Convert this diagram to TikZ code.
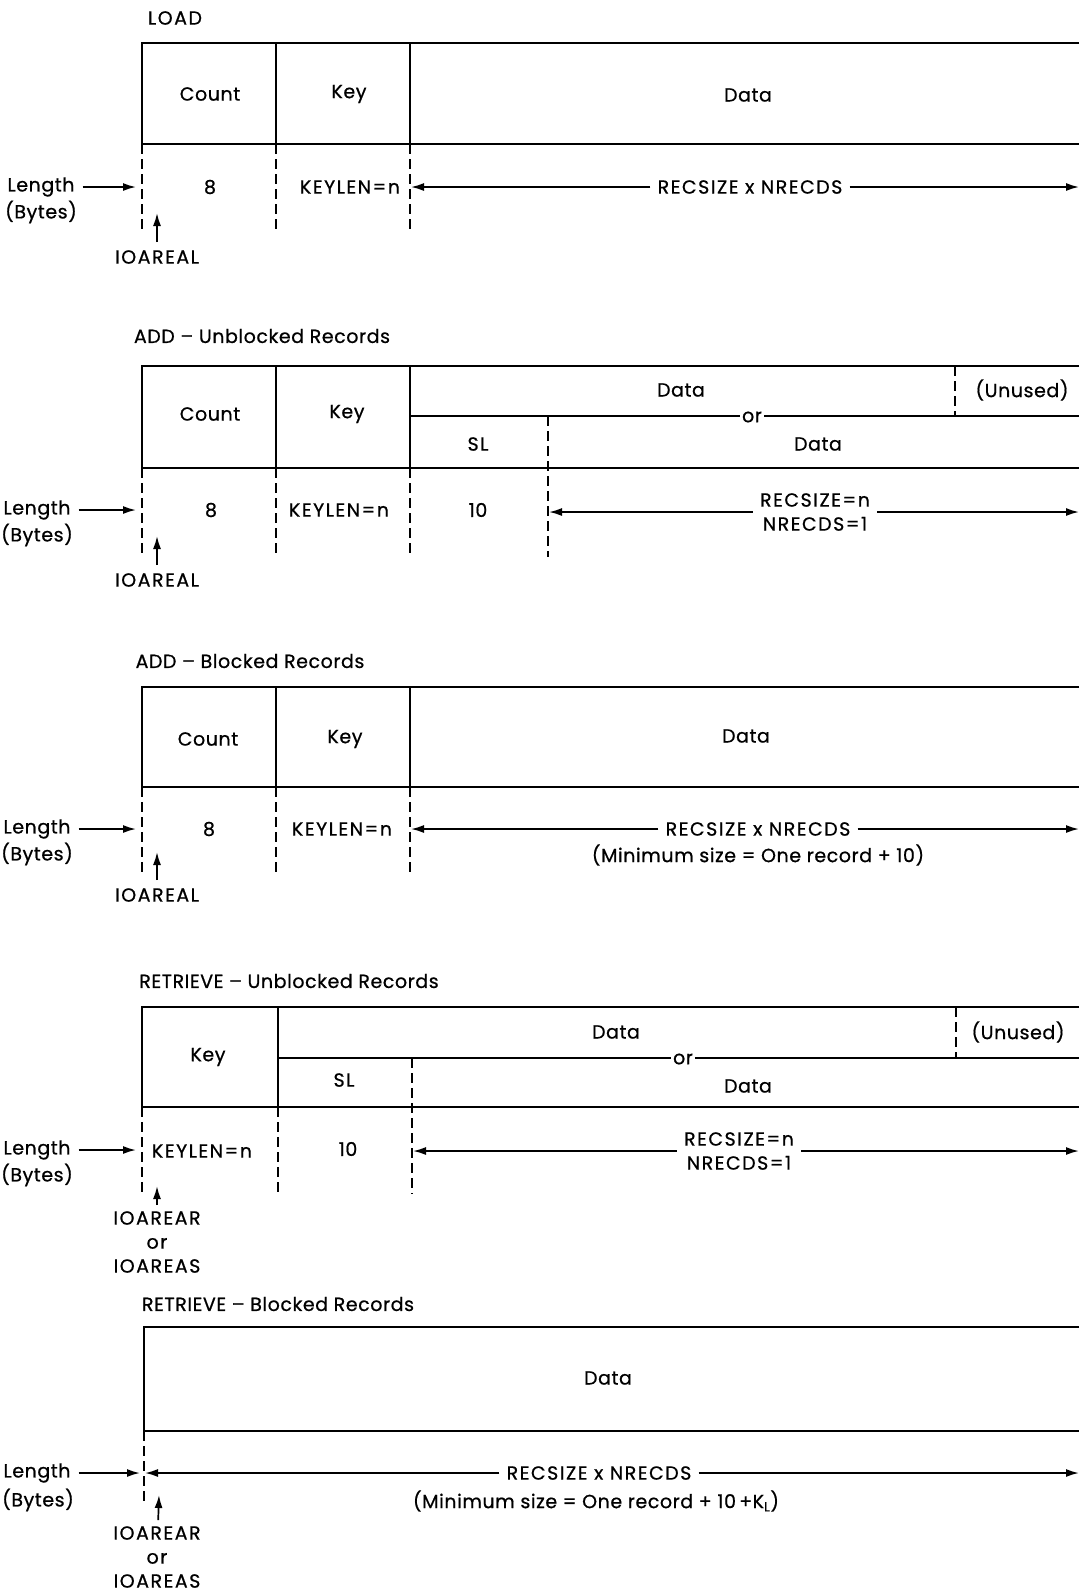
\documentclass[tikz,border=0pt]{standalone}
\usepackage{fontspec}
\setmainfont{Poppins}[LetterSpace=3, FakeBold=0.7]
\newfontfamily\capsfont{Poppins}[LetterSpace=8, FakeBold=0.7]
\usetikzlibrary{positioning,arrows.meta}

\begin{document}
\begin{tikzpicture}[
  x=1pt, y=-1pt,
  >={Latex[length=13pt,width=8pt]},
  every node/.style={font=\fontsize{19}{24}\selectfont, inner sep=2pt},
  caps/.style={font=\fontsize{19}{24}\capsfont},
  wall/.style={line width=2.3pt},
  cut/.style={line width=1.5pt, dash pattern=on 10pt off 5pt},
  span/.style={->, line width=1.7pt},
  ptr/.style={->, line width=1.7pt, shorten <=6pt},
  mid/.style={caps, inner sep=7pt, align=center},
  orr/.style={inner sep=2pt},
]
  \useasboundingbox (0,0) rectangle (1079,1593);

  % LOAD
  \node[caps] (t1) at (175,18) {LOAD};
  \draw[wall] (1079,43) -- (142,43) -- (142,144) -- (1079,144);
  \draw[wall] (276,43) -- (276,144) (410,43) -- (410,144);
  \draw[cut] (142,144) -- (142,229) (276,144) -- (276,229) (410,144) -- (410,229);
  \node (cnt1) at (210,94) {Count};
  \node (key1) at (349,94) {Key};
  \node (dat1) at (748,95) {Data};
  \node (n8a) at (210,187) {8};
  \node[caps] (kl1) at (350,187) {KEYLEN=n};
  \coordinate (l1) at (411,187);
  \coordinate (r1) at (1079,187);
  \node[mid] (rs1) at (750,187) {RECSIZE x NRECDS};
  \draw[span] (rs1) -- (l1);
  \draw[span] (rs1) -- (r1);
  \node (len1) at (41,187) {Length};
  \node (byt1) at (41,212) {(Bytes)};
  \coordinate (in1) at (136,187);
  \draw[ptr] (len1) -- (in1);
  \node[caps] (io1) at (157,257) {IOAREAL};
  \coordinate (p1) at (157,213);
  \draw[ptr] (io1) -- (p1);

  % ADD - Unblocked Records
  \node (t2) at (262,336) {ADD -- Unblocked Records};
  \draw[wall] (1079,366) -- (142,366) -- (142,468) -- (1079,468);
  \draw[wall] (276,366) -- (276,468) (410,366) -- (410,468);
  \node[orr] (or2) at (752,417) {or};
  \draw[wall] (410,416) -- (or2.west |- 0,416) (or2.east |- 0,416) -- (1079,416);
  \draw[cut] (955,366) -- (955,416) (548,416) -- (548,557);
  \draw[cut] (142,468) -- (142,557) (276,468) -- (276,557) (410,468) -- (410,557);
  \node (cnt2) at (210,414) {Count};
  \node (key2) at (347,414) {Key};
  \node (dat2) at (681,390) {Data};
  \node (un2) at (1022,390) {(Unused)};
  \node[caps] (sl2) at (478,444) {SL};
  \node (dat2b) at (818,444) {Data};
  \node (n8b) at (211,510) {8};
  \node[caps] (kl2) at (339,510) {KEYLEN=n};
  \node (n10b) at (478,510) {10};
  \coordinate (l2) at (549,512);
  \coordinate (r2) at (1079,512);
  \node[mid] (rs2) at (815,512) {RECSIZE=n\\NRECDS=1};
  \draw[span] (rs2) -- (l2);
  \draw[span] (rs2) -- (r2);
  \node (len2) at (37,510) {Length};
  \node (byt2) at (37,535) {(Bytes)};
  \coordinate (in2) at (136,510);
  \draw[ptr] (len2) -- (in2);
  \node[caps] (io2) at (157,580) {IOAREAL};
  \coordinate (p2) at (157,536);
  \draw[ptr] (io2) -- (p2);

  % ADD - Blocked Records
  \node (t3) at (250,661) {ADD -- Blocked Records};
  \draw[wall] (1079,687) -- (142,687) -- (142,787) -- (1079,787);
  \draw[wall] (276,687) -- (276,787) (410,687) -- (410,787);
  \draw[cut] (142,787) -- (142,874) (276,787) -- (276,874) (410,787) -- (410,874);
  \node (cnt3) at (208,739) {Count};
  \node (key3) at (345,739) {Key};
  \node (dat3) at (746,736) {Data};
  \node (n8c) at (209,829) {8};
  \node[caps] (kl3) at (342,829) {KEYLEN=n};
  \coordinate (l3) at (411,829);
  \coordinate (r3) at (1079,829);
  \node[mid] (rs3) at (758,829) {RECSIZE x NRECDS};
  \node (min3) at (758,855) {(Minimum size = One record + 10)};
  \draw[span] (rs3) -- (l3);
  \draw[span] (rs3) -- (r3);
  \node (len3) at (37,829) {Length};
  \node (byt3) at (37,854) {(Bytes)};
  \coordinate (in3) at (136,829);
  \draw[ptr] (len3) -- (in3);
  \node[caps] (io3) at (157,895) {IOAREAL};
  \coordinate (p3) at (157,852);
  \draw[ptr] (io3) -- (p3);

  % RETRIEVE - Unblocked Records
  \node (t4) at (289,981) {RETRIEVE -- Unblocked Records};
  \draw[wall] (1079,1007) -- (142,1007) -- (142,1107) -- (1079,1107);
  \draw[wall] (278,1007) -- (278,1107);
  \node[orr] (or4) at (683,1059) {or};
  \draw[wall] (278,1058) -- (or4.west |- 0,1058) (or4.east |- 0,1058) -- (1079,1058);
  \draw[cut] (956,1007) -- (956,1058) (412,1058) -- (412,1194);
  \draw[cut] (142,1107) -- (142,1194) (278,1107) -- (278,1194);
  \node (key4) at (208,1057) {Key};
  \node (dat4) at (616,1032) {Data};
  \node (un4) at (1018,1032) {(Unused)};
  \node[caps] (sl4) at (344,1080) {SL};
  \node (dat4b) at (748,1086) {Data};
  \node[caps] (kl4) at (202,1151) {KEYLEN=n};
  \node (n10d) at (348,1149) {10};
  \coordinate (l4) at (413,1151);
  \coordinate (r4) at (1079,1151);
  \node[mid] (rs4) at (739,1151) {RECSIZE=n\\NRECDS=1};
  \draw[span] (rs4) -- (l4);
  \draw[span] (rs4) -- (r4);
  \node (len4) at (37,1150) {Length};
  \node (byt4) at (37,1175) {(Bytes)};
  \coordinate (in4) at (136,1150);
  \draw[ptr] (len4) -- (in4);
  \node[caps, align=center, inner sep=0pt] (io4) at (157,1242) {IOAREAR\\or\\IOAREAS};
  \coordinate (p4) at (157,1186);
  \draw[ptr] (io4) -- (p4);

  % RETRIEVE - Blocked Records
  \node (t5) at (278,1304) {RETRIEVE -- Blocked Records};
  \draw[wall] (1079,1327) -- (144,1327) -- (144,1431) -- (1079,1431);
  \draw[cut] (144,1431) -- (144,1503);
  \node (dat5) at (608,1378) {Data};
  \coordinate (l5) at (145,1473);
  \coordinate (r5) at (1079,1473);
  \node[mid] (rs5) at (599,1473) {RECSIZE x NRECDS};
  \node (min5) at (596,1501) {(Minimum size = One record + 10\,+K\textsubscript{L})};
  \draw[span] (rs5) -- (l5);
  \draw[span] (rs5) -- (r5);
  \node (len5) at (37,1473) {Length};
  \node (byt5) at (38,1500) {(Bytes)};
  \coordinate (in5) at (140,1473);
  \draw[ptr] (len5) -- (in5);
  \node[caps, align=center, inner sep=0pt] (io5) at (157,1557) {IOAREAR\\or\\IOAREAS};
  \coordinate (p5) at (159,1495);
  \draw[ptr] (io5) -- (p5);
\end{tikzpicture}
\end{document}
